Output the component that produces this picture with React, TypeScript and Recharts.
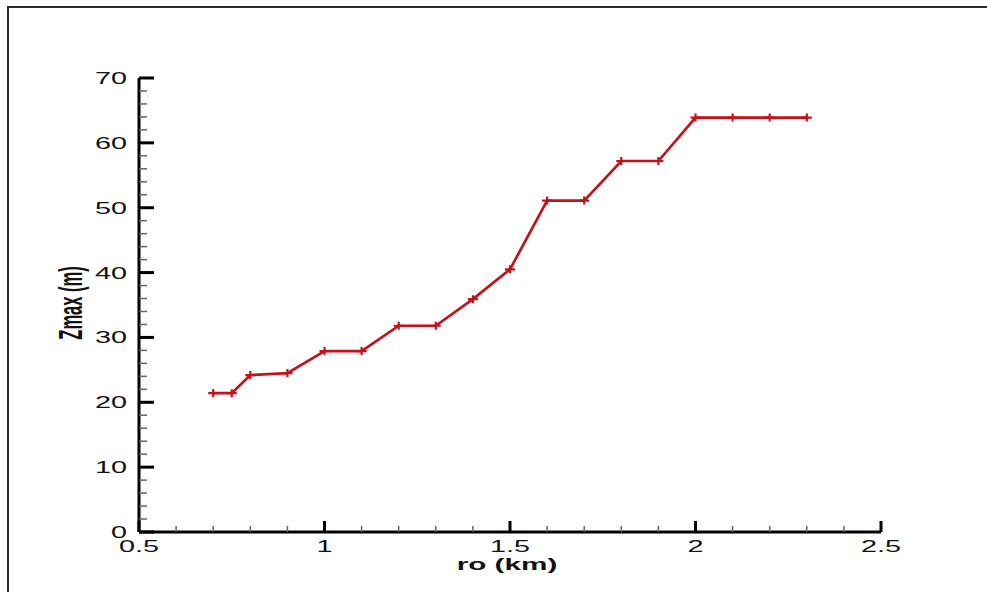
import { LineChart, Line, XAxis, YAxis } from "recharts";

// ro (km) vs Zmax (m)
const roKm = [0.7, 0.75, 0.8, 0.9, 1.0, 1.1, 1.2, 1.3, 1.4, 1.5, 1.6, 1.7, 1.8, 1.9, 2.0, 2.1, 2.2, 2.3];
const zmax = [21.4, 21.4, 24.2, 24.5, 27.9, 27.9, 31.8, 31.8, 35.9, 40.5, 51.1, 51.1, 57.2, 57.2, 63.9, 63.9, 63.9, 63.9];

const xTicks = [0.5, 0.6, 0.7, 0.8, 0.9, 1.0, 1.1, 1.2, 1.3, 1.4, 1.5, 1.6, 1.7, 1.8, 1.9, 2.0, 2.1, 2.2, 2.3, 2.4, 2.5];
const yTicks = [0, 2, 4, 6, 8, 10, 12, 14, 16, 18, 20, 22, 24, 26, 28, 30, 32, 34, 36, 38, 40, 42, 44, 46, 48, 50, 52, 54, 56, 58, 60, 62, 64, 66, 68, 70];

const data = roKm.map((ro, i) => ({ ro, zmax: zmax[i] }));

const FONT = "'Liberation Sans', Arial, sans-serif";
const RED = "#c4121a";
const SX = 1.8; // the original picture is stretched sideways

const isMajor = (v: number, step: number) => Math.abs(v / step - Math.round(v / step)) < 1e-6;

function XTick(props: any) {
  const { x, y, payload } = props;
  const v = payload.value;
  const major = isMajor(v, 0.5);
  return (
    <g>
      <line x1={x} x2={x} y1={y} y2={y - (major ? 11 : 6)} stroke={major ? "#000" : "#666"} strokeWidth={major ? 3 : 1.5} />
      {major && (
        <text transform={`translate(${x},${y + 20}) scale(${SX},1)`} textAnchor="middle" fontSize={16} fontFamily={FONT} fill="#111">
          {String(v)}
        </text>
      )}
    </g>
  );
}

function YTick(props: any) {
  const { x, y, payload } = props;
  const v = payload.value;
  const major = isMajor(v, 10);
  return (
    <g>
      <line x1={x} x2={x + (major ? 15 : 8)} y1={y} y2={y} stroke={major ? "#000" : "#666"} strokeWidth={major ? 3 : 1.5} />
      {major && (
        <text transform={`translate(${x - 12},${y + 6}) scale(${SX},1)`} textAnchor="end" fontSize={16} fontFamily={FONT} fill="#111">
          {String(v)}
        </text>
      )}
    </g>
  );
}

function PlusDot(props: any) {
  const { cx, cy } = props;
  if (cx == null || cy == null) return null;
  return <path d={`M${cx - 5},${cy}h10M${cx},${cy - 4}v8`} stroke={RED} strokeWidth={2.2} fill="none" />;
}

export default function App() {
  return (
    <div style={{ position: "absolute", left: 0, top: 0, width: 987, height: 592, background: "#fff", overflow: "hidden" }}>
      {/* frame: top and left edges only */}
      <div style={{ position: "absolute", left: 7, top: 6, width: 980, height: 2, background: "#2a2a2a" }} />
      <div style={{ position: "absolute", left: 7, top: 6, width: 2, height: 586, background: "#2a2a2a" }} />
      <LineChart width={987} height={592} data={data} margin={{ top: 78, right: 106, bottom: 0, left: 59 }} style={{ position: "absolute", left: 0, top: 0 }}>
        <XAxis
          type="number"
          dataKey="ro"
          domain={[0.5, 2.5]}
          ticks={xTicks}
          interval={0}
          height={60}
          tickSize={0}
          tickMargin={0}
          tickLine={false}
          tick={<XTick />}
          axisLine={{ stroke: "#000", strokeWidth: 3 }}
          label={{
            content: (p: any) => {
              const vb = p.viewBox;
              return (
                <text transform={`translate(${vb.x + vb.width / 2 - 3},${vb.y + 38}) scale(${SX},1)`} textAnchor="middle" fontSize={16.5} fontWeight="bold" fontFamily={FONT} fill="#111">
                  ro (km)
                </text>
              );
            },
          }}
        />
        <YAxis
          type="number"
          domain={[0, 70]}
          ticks={yTicks}
          interval={0}
          width={80}
          tickSize={0}
          tickMargin={0}
          tickLine={false}
          tick={<YTick />}
          axisLine={{ stroke: "#000", strokeWidth: 3 }}
          label={{
            content: (p: any) => {
              const vb = p.viewBox;
              return (
                <text transform={`translate(${vb.x + 23},${vb.y + vb.height / 2 - 2}) scale(2.05,1) rotate(-90)`} textAnchor="middle" fontSize={16.5} fontWeight="bold" fontFamily={FONT} fill="#111">
                  Zmax (m)
                </text>
              );
            },
          }}
        />
        <Line type="linear" dataKey="zmax" stroke={RED} strokeWidth={2.7} dot={<PlusDot />} activeDot={false} isAnimationActive={false} />
      </LineChart>
    </div>
  );
}
